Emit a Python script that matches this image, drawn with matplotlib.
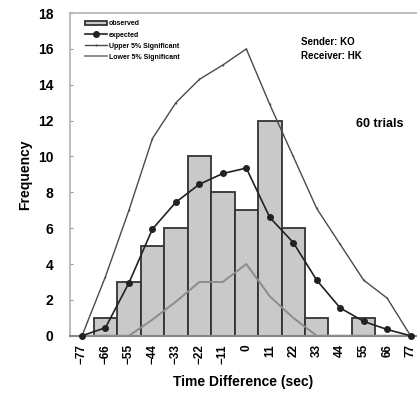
"""Observed vs expected time-difference histogram (Sender KO / Receiver HK)."""
import matplotlib
matplotlib.use("Agg")
import matplotlib.pyplot as plt

plt.rcParams["font.family"] = ["Liberation Sans", "DejaVu Sans"]
plt.rcParams["font.weight"] = "bold"

# ── data ──
time_diff = [-77, -66, -55, -44, -33, -22, -11, 0, 11, 22, 33, 44, 55, 66, 77]
observed = [0, 1, 3, 5, 6, 10, 8, 7, 12, 6, 1, 0, 1, 0, 0]
expected = [0, 0.45, 2.95, 5.95, 7.45, 8.45, 9.05, 9.35, 6.6, 5.2, 3.1, 1.55, 0.8, 0.35, 0]
upper5 = [0, 3.3, 7.0, 11.0, 13.0, 14.3, 15.1, 16.0, 12.9, 10.0, 7.1, 5.1, 3.1, 2.1, 0]
lower5 = [0, 0, 0, 0.9, 1.9, 3.0, 3.0, 4.0, 2.2, 1.0, 0, 0, 0, 0, 0]
tick_labels = ["\u221277", "\u221266", "\u221255", "\u221244", "\u221233", "\u221222", "\u221211",
               "0", "11", "22", "33", "44", "55", "66", "77"]

fig = plt.figure(figsize=(4.17, 3.95), dpi=100)
ax = fig.add_axes([0.168, 0.150, 0.832, 0.817])

ax.bar(time_diff, observed, width=11, color="#c9c9c9", edgecolor="#333333",
       linewidth=1.3, label="observed", zorder=2)
ax.plot(time_diff, upper5, color="#4a4a4a", lw=1.0, marker="|", ms=2,
        label="Upper 5% Significant", zorder=3)
ax.plot(time_diff, lower5, color="#8c8c8c", lw=1.4,
        label="Lower 5% Significant", zorder=3)
ax.plot(time_diff, expected, color="#222222", lw=1.2, marker="o", ms=4,
        label="expected", zorder=4, clip_on=False)

ax.set_xlim(-82.6, 80)
ax.set_ylim(0, 18)
ax.set_xticks(time_diff)
ax.set_xticklabels(tick_labels, rotation=90, fontsize=8.5, fontweight="bold")
ax.set_yticks(range(0, 19, 2))
ax.tick_params(axis="y", labelsize=10, direction="in", length=2, color="#999999", pad=12)
ax.tick_params(axis="x", length=0, pad=6)
for lab in ax.get_yticklabels():
    lab.set_fontweight("bold")

for side in ["top", "left"]:
    ax.spines[side].set_color("#b0b0b0")
    ax.spines[side].set_linewidth(1.2)
ax.spines["bottom"].set_color("#888888")
ax.spines["bottom"].set_linewidth(1.5)
ax.spines["right"].set_visible(False)

ax.set_xlabel("Time Difference (sec)", fontsize=10, fontweight="bold", labelpad=8)
ax.set_ylabel("Frequency", fontsize=10, fontweight="bold", labelpad=4)

handles, labels = ax.get_legend_handles_labels()
order = [labels.index(n) for n in ["observed", "expected", "Upper 5% Significant",
                                   "Lower 5% Significant"]]
ax.legend([handles[i] for i in order], [labels[i] for i in order],
          loc="upper left", bbox_to_anchor=(0.03, 0.99), frameon=False,
          prop={"size": 5, "weight": "bold"}, handlelength=3.2, handletextpad=0.3,
          labelspacing=0.6, borderaxespad=0.2)

ax.text(0.667, 0.925, "Sender: KO\nReceiver: HK", transform=ax.transAxes,
        fontsize=7, fontweight="bold", va="top", linespacing=1.5)
ax.text(0.825, 0.655, "60 trials", transform=ax.transAxes,
        fontsize=9, fontweight="bold", va="center")

fig.savefig("out.png", dpi=100)
